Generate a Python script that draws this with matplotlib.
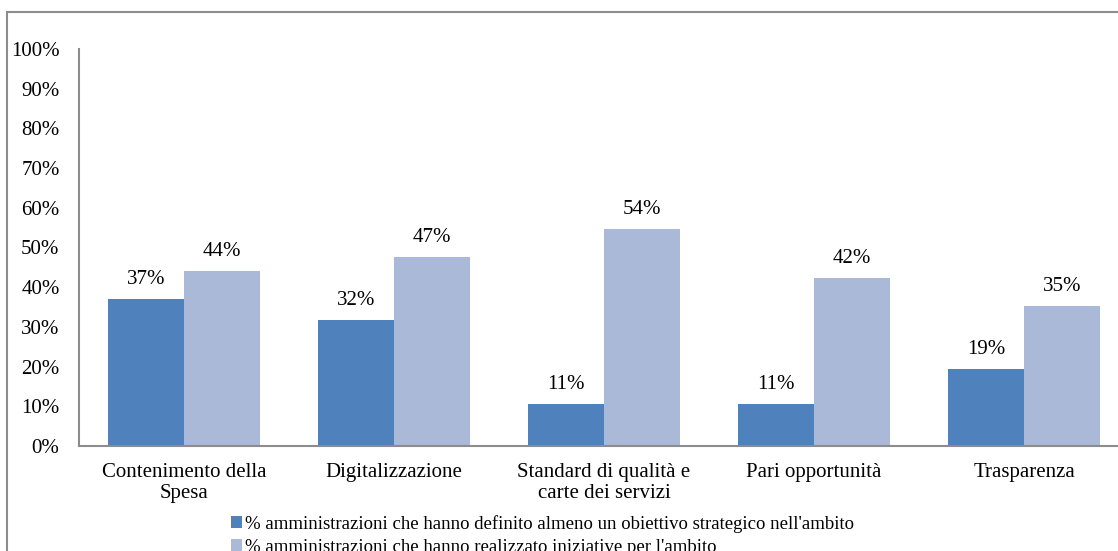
import numpy as np
import matplotlib.pyplot as plt
from matplotlib.patches import Patch, Rectangle

categories = ['Contenimento della\nSpesa', 'Digitalizzazione', 'Standard di qualità e\ncarte dei servizi',
              'Pari opportunità', 'Trasparenza']
obiettivo = [37.0, 31.7, 10.6, 10.6, 19.4]
iniziative = [44.1, 47.6, 54.7, 42.3, 35.3]
labels_obiettivo = ['37%', '32%', '11%', '11%', '19%']
labels_iniziative = ['44%', '47%', '54%', '42%', '35%']
series_names = ["% amministrazioni che hanno definito almeno un obiettivo strategico nell'ambito",
                "% amministrazioni che hanno realizzato iniziative per l'ambito"]

DARK = '#4F81BD'
LIGHT = '#AAB9D7'
GREY = '#8C8C8C'

plt.rcParams['font.family'] = ['Liberation Serif', 'DejaVu Serif']
plt.rcParams['font.size'] = 15

fig = plt.figure(figsize=(11.18, 5.51), dpi=100)
W, H = 1118, 551

# outer chart frame (cut off at right and bottom like the source)
fig.patches.append(Rectangle((7 / W, -0.1), 1.2, 1 - 12 / H + 0.1, transform=fig.transFigure,
                             fill=False, edgecolor=GREY, linewidth=1.5))

ax = fig.add_axes([79 / W, 1 - 446 / H, 1050 / W, (446 - 49) / H])
x = np.arange(len(categories))
w = 0.362
b1 = ax.bar(x - w / 2, obiettivo, w, color=DARK)
b2 = ax.bar(x + w / 2, iniziative, w, color=LIGHT)

for bars, labs in ((b1, labels_obiettivo), (b2, labels_iniziative)):
    for bar, lab in zip(bars, labs):
        ax.annotate(lab, (bar.get_x() + bar.get_width() / 2, bar.get_height()),
                    xytext=(0, 7), textcoords='offset points', ha='center', va='bottom',
                    fontsize=15)

ax.set_xlim(-0.5, len(categories) - 0.5)
ax.set_ylim(0, 100)
ax.set_yticks(np.arange(0, 101, 10))
ax.set_yticklabels([f'{v}%' for v in range(0, 101, 10)])
ax.set_xticks(x)
ax.set_xticklabels(categories, linespacing=1.2)
ax.tick_params(axis='both', length=0, labelsize=15)
ax.tick_params(axis='y', pad=14)
ax.tick_params(axis='x', pad=12)
for s in ['top', 'right']:
    ax.spines[s].set_visible(False)
for s in ['left', 'bottom']:
    ax.spines[s].set_color(GREY)
    ax.spines[s].set_linewidth(1.5)

handles = [Patch(facecolor=DARK), Patch(facecolor=LIGHT)]
fig.legend(handles, series_names, loc='upper left', bbox_to_anchor=(231 / W, 1 - 515 / H),
           frameon=False, handlelength=0.6, handleheight=0.6, handletextpad=0.15,
           labelspacing=0.3, borderaxespad=0, borderpad=0, fontsize=13.5)

fig.savefig('out.png', dpi=100)
